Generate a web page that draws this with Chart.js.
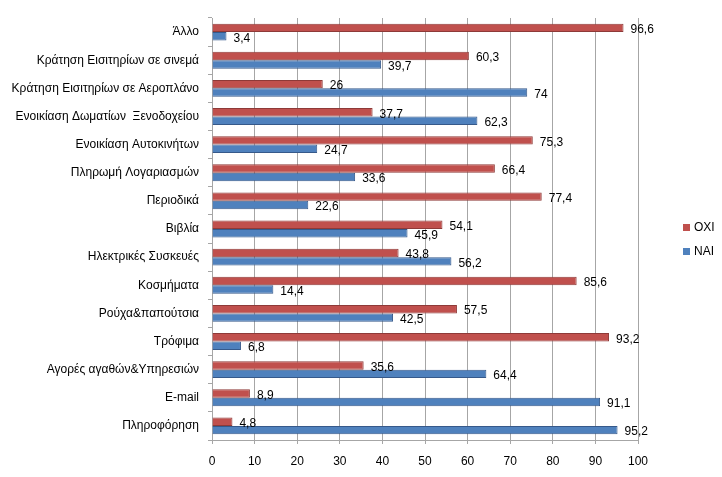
<!DOCTYPE html>
<html><head><meta charset="utf-8">
<script src="https://cdn.jsdelivr.net/npm/chart.js@4/dist/chart.umd.min.js"></script>
<style>html,body{margin:0;padding:0;background:#fff}#wrap{width:722px;height:477px}</style>
</head><body><div id="wrap"><canvas id="c" width="722" height="477"></canvas></div>
<script>
const categories = ["Άλλο","Κράτηση Εισιτηρίων σε σινεμά","Κράτηση Εισιτηρίων σε Αεροπλάνο","Ενοικίαση Δωματίων  Ξενοδοχείου","Ενοικίαση Αυτοκινήτων","Πληρωμή Λογαριασμών","Περιοδικά","Βιβλία","Ηλεκτρικές Συσκευές","Κοσμήματα","Ρούχα&παπούτσια","Τρόφιμα","Αγορές αγαθών&Υπηρεσιών","E-mail","Πληροφόρηση"];
const seriesNames = ["ΟΧΙ","ΝΑΙ"];
const valuesOXI = [96.6,60.3,26,37.7,75.3,66.4,77.4,54.1,43.8,85.6,57.5,93.2,35.6,8.9,4.8];
const valuesNAI = [3.4,39.7,74,62.3,24.7,33.6,22.6,45.9,56.2,14.4,42.5,6.8,64.4,91.1,95.2];
const xTicks = [0,10,20,30,40,50,60,70,80,90,100];

const FONT = "'Liberation Sans', Arial, sans-serif";

function barFill(base, light, dark){
  return function(c){
    const el = c.element;
    if(!el || !c.chart.chartArea) return base;
    const h = el.height || 8;
    const y0 = el.y - h/2, y1 = el.y + h/2;
    if(!isFinite(y0) || !isFinite(y1) || y1<=y0) return base;
    const g = c.chart.ctx.createLinearGradient(0,y0,0,y1);
    g.addColorStop(0,dark); g.addColorStop(0.35,light); g.addColorStop(0.6,base); g.addColorStop(1,dark);
    return g;
  };
}

const valueLabels = {
  id:'valueLabels',
  afterDatasetsDraw(chart){
    const ctx = chart.ctx;
    ctx.save();
    ctx.font = "12px " + FONT;
    ctx.fillStyle = '#000';
    ctx.textBaseline = 'middle';
    ctx.textAlign = 'left';
    chart.data.datasets.forEach((ds,i)=>{
      const meta = chart.getDatasetMeta(i);
      meta.data.forEach((el,j)=>{
        const t = String(ds.data[j]).replace('.',',');
        ctx.fillText(t, el.x + 7, el.y + 2);
      });
    });
    ctx.restore();
  }
};
const legendColors = ['#C0504D','#4F81BD'];
const customLegend = {
  id:'customLegend',
  afterDraw(chart){
    const ctx = chart.ctx;
    ctx.save();
    ctx.font = "12px " + FONT;
    ctx.textBaseline = 'middle';
    ctx.textAlign = 'left';
    const x = 683, ys = [228,252];
    chart.data.datasets.forEach((ds,i)=>{
      ctx.fillStyle = legendColors[i];
      ctx.fillRect(x, ys[i]-4, 7, 7);
      ctx.fillStyle = '#000';
      ctx.fillText(ds.label, x+11, ys[i]);
    });
    ctx.restore();
  }
};

new Chart(document.getElementById('c'), {
  type:'bar',
  data:{
    labels: categories,
    datasets:[
      {label:seriesNames[0], data:valuesOXI, backgroundColor:barFill('#C0504D','#E08A87','#8E3A38'), borderColor:'#8E3A38', borderWidth:1, barPercentage:1, categoryPercentage:0.6},
      {label:seriesNames[1], data:valuesNAI, backgroundColor:barFill('#4F81BD','#8AB0DE','#36598A'), borderColor:'#36598A', borderWidth:1, barPercentage:1, categoryPercentage:0.6}
    ]
  },
  options:{
    indexAxis:'y',
    responsive:false,
    animation:false,
    devicePixelRatio:1,
    layout:{padding:{left:0,right:84,top:18,bottom:0}},
    plugins:{legend:{display:false}, tooltip:{enabled:false}},
    scales:{
      x:{
        min:0,max:100,
        afterBuildTicks(s){ s.ticks = xTicks.map(v=>({value:v})); },
        afterFit(s){ s.height = 37; },
        grid:{color:'#a6a6a6', tickLength:4, drawTicks:true},
        border:{color:'#a6a6a6'},
        ticks:{color:'#000', font:{family:FONT,size:12}, padding:10, maxRotation:0}
      },
      y:{
        afterFit(s){ s.width = 212; },
        grid:{drawOnChartArea:false, color:'#a6a6a6', tickLength:4},
        border:{color:'#a6a6a6'},
        ticks:{color:'#000', font:{family:FONT,size:12}, padding:9, autoSkip:false}
      }
    }
  },
  plugins:[valueLabels, customLegend]
});
</script></body></html>
